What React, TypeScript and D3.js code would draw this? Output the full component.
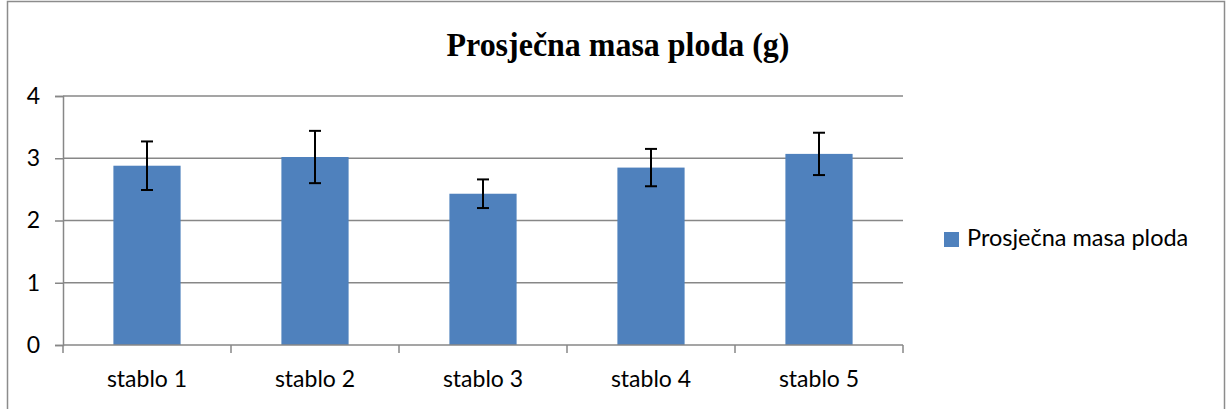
import React, { useRef, useEffect } from "react";
import * as d3 from "d3";

const categories = ["stablo 1", "stablo 2", "stablo 3", "stablo 4", "stablo 5"];
const means = [2.88, 3.02, 2.43, 2.85, 3.07];
const errors = [0.39, 0.42, 0.23, 0.3, 0.34];
const yTicks = [0, 1, 2, 3, 4];
const title = "Prosječna masa ploda (g)";
const seriesName = "Prosječna masa ploda";

const W = 1226;
const H = 409;
const margin = { top: 96, right: 323, bottom: 64, left: 63 };
const barColor = "#4F81BD";
const gridColor = "#878787";
const labelFont = "Lato, 'Open Sans', sans-serif";

export default function App() {
  const svgRef = useRef<SVGSVGElement>(null);

  useEffect(() => {
    const svg = d3.select(svgRef.current);
    svg.selectAll("*").remove();

    const x = d3
      .scaleBand()
      .domain(categories)
      .range([margin.left, W - margin.right])
      .paddingInner(0.6)
      .paddingOuter(0.3);

    const y = d3
      .scaleLinear()
      .domain([0, 4])
      .range([H - margin.bottom, margin.top]);

    // outer chart border
    svg
      .append("rect")
      .attr("x", 7.5)
      .attr("y", 1.5)
      .attr("width", W - 9)
      .attr("height", H + 10)
      .attr("fill", "white")
      .attr("stroke", "#8c8c8c")
      .attr("stroke-width", 1.5);

    // title (condensed bold serif)
    svg
      .append("text")
      .attr("x", 618)
      .attr("y", 56)
      .attr("text-anchor", "middle")
      .style("font-family", '"Liberation Serif", "Times New Roman", Times, serif')
      .style("font-weight", "bold")
      .style("font-size", "33px")
      .attr("textLength", 343)
      .attr("lengthAdjust", "spacingAndGlyphs")
      .attr("fill", "#000")
      .text(title);

    // y ticks
    const yAxis = svg
      .append("g")
      .attr("transform", `translate(${margin.left},0)`)
      .call(
        d3
          .axisLeft(y)
          .tickValues(yTicks)
          .tickSize(8)
          .tickFormat(d3.format("d"))
      );
    yAxis.select(".domain").attr("stroke", gridColor).attr("stroke-width", 1.5);
    yAxis.selectAll("line").attr("stroke", gridColor).attr("stroke-width", 1.5);
    yAxis
      .selectAll("text")
      .attr("x", -23)
      .attr("font-family", labelFont)
      .attr("font-size", 23)
      .attr("fill", "#000");

    // horizontal grid
    svg
      .append("g")
      .selectAll("line")
      .data(yTicks.filter((t) => t > 0))
      .join("line")
      .attr("x1", margin.left)
      .attr("x2", W - margin.right)
      .attr("y1", (d) => y(d))
      .attr("y2", (d) => y(d))
      .attr("stroke", gridColor)
      .attr("stroke-width", 1.5);

    // bars
    svg
      .append("g")
      .selectAll("rect")
      .data(categories)
      .join("rect")
      .attr("x", (d) => x(d)!)
      .attr("y", (d, i) => y(means[i]))
      .attr("width", x.bandwidth())
      .attr("height", (d, i) => y(0) - y(means[i]))
      .attr("fill", barColor);

    // x axis with boundary ticks
    const step = x.step();
    const bounds = d3.range(categories.length + 1).map((i) => margin.left + i * step);
    const xg = svg.append("g");
    xg.append("line")
      .attr("x1", margin.left)
      .attr("x2", W - margin.right)
      .attr("y1", y(0))
      .attr("y2", y(0))
      .attr("stroke", gridColor)
      .attr("stroke-width", 1.5);
    xg.selectAll(".tick")
      .data(bounds)
      .join("line")
      .attr("x1", (d) => d)
      .attr("x2", (d) => d)
      .attr("y1", y(0))
      .attr("y2", y(0) + 8)
      .attr("stroke", gridColor)
      .attr("stroke-width", 1.5);
    xg.selectAll("text")
      .data(categories)
      .join("text")
      .attr("x", (d) => x(d)! + x.bandwidth() / 2)
      .attr("y", 387)
      .attr("text-anchor", "middle")
      .attr("font-family", labelFont)
      .attr("font-size", 23)
      .attr("fill", "#000")
      .text((d) => d);

    // error bars
    const eb = svg.append("g").attr("stroke", "#000").attr("stroke-width", 2);
    categories.forEach((c, i) => {
      const cx = x(c)! + x.bandwidth() / 2;
      const top = y(means[i] + errors[i]);
      const bot = y(means[i] - errors[i]);
      eb.append("line").attr("x1", cx).attr("x2", cx).attr("y1", top).attr("y2", bot);
      eb.append("line").attr("x1", cx - 6).attr("x2", cx + 6).attr("y1", top).attr("y2", top);
      eb.append("line").attr("x1", cx - 6).attr("x2", cx + 6).attr("y1", bot).attr("y2", bot);
    });

    // legend
    const lg = svg.append("g").attr("transform", "translate(944,232)");
    lg.append("rect").attr("width", 15).attr("height", 15).attr("fill", barColor);
    lg.append("text")
      .attr("x", 23)
      .attr("y", 14)
      .attr("font-family", labelFont)
      .attr("font-size", 23.5)
      .attr("fill", "#000")
      .text(seriesName);
  }, []);

  return (
    <div style={{ position: "absolute", left: 0, top: 0 }}>
      <svg ref={svgRef} width={W} height={H} style={{ display: "block" }}></svg>
    </div>
  );
}
